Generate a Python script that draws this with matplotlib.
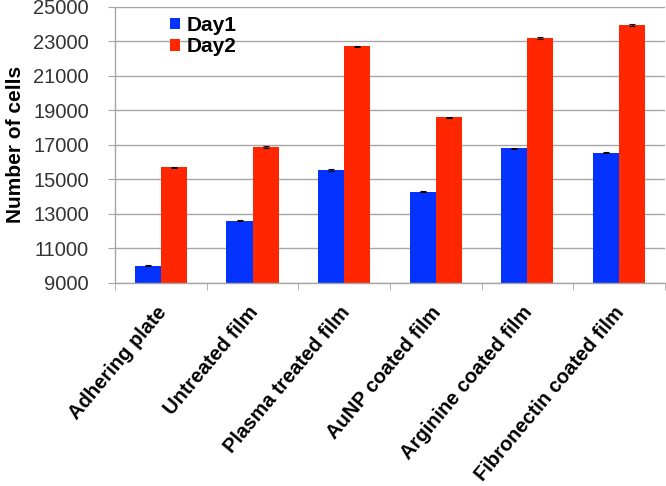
import numpy as np
import matplotlib.pyplot as plt
import matplotlib.transforms as mtransforms

plt.rcParams['font.family'] = ['Liberation Sans', 'DejaVu Sans']

categories = ['Adhering plate', 'Untreated film', 'Plasma treated film',
              'AuNP coated film', 'Arginine coated film', 'Fibronectin coated film']
day1 = [10000, 12600, 15550, 14280, 16800, 16550]
day2 = [15700, 16870, 22700, 18600, 23200, 23950]
day1_err = [40, 40, 40, 40, 40, 40]
day2_err = [40, 40, 40, 40, 40, 40]
yticks = [9000, 11000, 13000, 15000, 17000, 19000, 21000, 23000, 25000]

fig = plt.figure(figsize=(6.66, 4.86), dpi=100)
ax = fig.add_axes([0.173, 0.418, 0.825, 0.568])

x = np.arange(len(categories))
w = 0.285
ax.bar(x - w/2, day1, w, color='#0433FF', label='Day1',
       yerr=day1_err, error_kw=dict(ecolor='black', elinewidth=0.8, capsize=2, capthick=0.8))
ax.bar(x + w/2, day2, w, color='#FF2600', label='Day2',
       yerr=day2_err, error_kw=dict(ecolor='black', elinewidth=0.8, capsize=2, capthick=0.8))

ax.set_xlim(-0.5, len(categories) - 0.5)
ax.set_ylim(9000, 25000)
ax.set_yticks(yticks)
ax.set_yticklabels([str(t) for t in yticks], fontsize=14.5, color='#333333')
ax.yaxis.grid(True, color='#a6a6a6', linewidth=1)
ax.set_axisbelow(True)

for s in ['top', 'right']:
    ax.spines[s].set_visible(False)
for s in ['left', 'bottom']:
    ax.spines[s].set_color('#a6a6a6')
    ax.spines[s].set_linewidth(1)

ax.tick_params(axis='y', length=5, color='#a6a6a6', pad=14)
# category boundary ticks
ax.set_xticks(np.arange(len(categories) + 1) - 0.5, minor=True)
ax.tick_params(axis='x', which='minor', length=5, color='#a6a6a6')
ax.set_xticks(x)
ax.tick_params(axis='x', which='major', length=0, pad=0)
ax.set_xticklabels(categories, rotation=50, ha='right', va='center',
                   rotation_mode='anchor', fontsize=14.5, fontweight='bold')
offset = mtransforms.ScaledTranslation(2/100, -26/100, fig.dpi_scale_trans)
for lab in ax.get_xticklabels():
    lab.set_transform(lab.get_transform() + offset)

ax.set_ylabel('Number of cells', fontsize=15, fontweight='bold', labelpad=6)

ax.legend(loc='upper left', bbox_to_anchor=(0.065, 1.035), frameon=False,
          prop=dict(size=15, weight='bold'), handlelength=0.5, handleheight=0.5,
          handletextpad=0.3, labelspacing=0.1)

fig.savefig('out.png', dpi=100)
